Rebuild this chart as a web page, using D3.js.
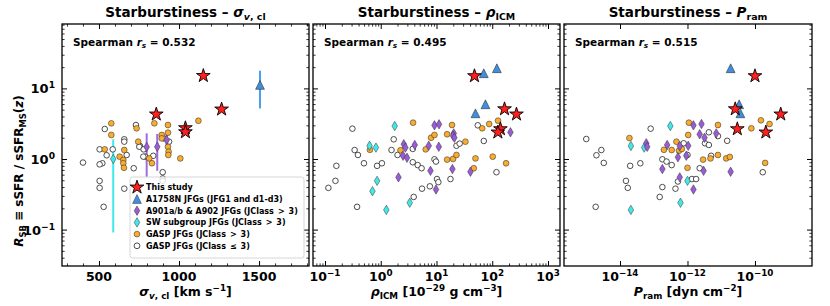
<!DOCTYPE html>
<html>
<head>
<meta charset="utf-8">
<script src="https://cdn.jsdelivr.net/npm/d3@7"></script>
<style>
  body { margin: 0; background: #fff; }
  svg { font-family: "DejaVu Sans", sans-serif; font-weight: bold; }
</style>
</head>
<body>
<div id="chart"></div>
<script>
// ---- data: [x, R_SB] (error bars: [x, R_SB, lo, hi]) ----
var sigStars = [[1152, 15.1], [858, 4.3], [1040, 2.75], [1040, 2.41], [1266, 5.06]];
var sigA1758 = [[1506, 11.2, 5.2, 17.8]];
var sigA901 = [[798, 1.48, 0.56, 2.31], [864, 1.49, 0.68, 2.26], [923, 1.86, 1.6, 2.2]];
var sigSW = [[589, 1.0, 0.091, 1.9]];
var sigGaspHi = [[577, 3.2], [577, 2.19], [536, 1.37], [629, 1.08], [658, 1.34], [652, 0.97], [652, 0.87],
  [656, 0.75], [735, 2.72], [745, 1.76], [846, 3.2], [814, 1.02], [831, 0.87], [931, 3.03], [931, 1.49],
  [935, 1.27], [931, 2.36], [892, 2.19], [892, 1.96], [933, 1.14], [1008, 1.02], [1121, 3.48]];
var sigGaspLo = [[400, 0.89], [504, 1.37], [536, 2.66], [586, 1.37], [548, 1.13], [521, 0.87], [504, 0.84],
  [504, 0.49], [504, 0.39], [529, 0.21], [658, 1.9], [658, 1.76], [673, 1.14], [658, 0.38], [717, 0.74],
  [731, 3.03], [756, 1.53], [789, 1.08], [777, 1.08], [904, 1.96], [898, 0.65], [898, 0.53], [898, 0.49],
  [938, 1.76], [839, 1.11], [752, 1.49], [779, 1.37]];

var rhoStars = [[48, 15.0], [166, 5.1], [272, 4.3], [140, 2.66], [126, 2.39]];
var rhoA1758 = [[70.5, 16.4], [121, 19.3], [75.5, 5.96], [50, 4.44]];
var rhoA901 = [[9.2, 3.0], [11.1, 3.1], [20.4, 2.31], [19.8, 2.14], [20.9, 2.0], [2.59, 1.62], [2.77, 1.45],
  [4.07, 1.58], [7.26, 1.54], [11.0, 1.49], [2.51, 1.11], [2.96, 1.04], [7.8, 0.68], [19.3, 0.72],
  [40.6, 0.66], [2.08, 0.55], [9.8, 0.37], [212, 2.39]];
var rhoSW = [[1.78, 2.93], [0.63, 1.54], [0.82, 1.45], [0.86, 0.49], [0.71, 0.35], [1.26, 0.19], [3.31, 0.24]];
var rhoGaspHi = [[3.8, 3.27], [0.64, 1.35], [2.26, 1.33], [6.4, 1.37], [8.0, 2.0], [9.2, 2.19], [15.5, 2.24],
  [19.0, 3.03], [33, 1.76], [15.5, 0.98], [19.8, 1.0], [22.8, 1.14], [50, 1.02], [46.6, 0.74], [88, 3.13],
  [102, 1.08], [127, 3.49], [177, 0.87], [66, 2.72]];
var rhoGaspLo = [[0.31, 2.69], [0.34, 1.34], [0.39, 1.14], [0.16, 0.8], [0.5, 0.87], [0.154, 0.49],
  [0.115, 0.39], [0.376, 0.21], [0.86, 0.8], [1.05, 0.87], [1.71, 1.9], [1.56, 1.34], [2.0, 1.14],
  [3.75, 1.39], [3.75, 0.9], [4.6, 0.82], [5.4, 0.74], [9.2, 0.99], [9.8, 0.92], [10.2, 0.52], [10.8, 0.47],
  [5.5, 0.38], [7.6, 0.41], [3.9, 0.29], [17.8, 0.52], [22.8, 1.54], [26, 1.65], [55, 3.0], [70.5, 1.8],
  [119, 0.65]];

var pramStars = [[1e-10, 15.0], [2.6e-11, 5.1], [5.8e-10, 4.3], [3e-11, 2.66], [2.1e-10, 2.39]];
var pramA1758 = [[1.9e-11, 19.3], [3.4e-11, 5.96], [3.7e-11, 4.44]];
var pramA901 = [[1.5e-12, 3.0], [2.6e-12, 3.13], [2.3e-12, 2.24], [3.2e-12, 2.0], [7.1e-12, 2.31],
  [6e-14, 1.67], [6.4e-14, 1.49], [2.5e-13, 1.58], [5.9e-13, 1.53], [1.05e-12, 1.54], [5.2e-13, 1.06],
  [9.2e-13, 1.11], [1.8e-13, 0.72], [5.9e-13, 0.55], [3e-12, 0.68], [1.9e-11, 0.66], [1.5e-12, 0.37]];
var pramSW = [[3.1e-13, 2.93], [2.1e-14, 1.53], [5.2e-14, 1.45], [1e-12, 0.49], [6.2e-13, 0.24], [2.1e-14, 0.19]];
var pramGaspHi = [[1.9e-14, 1.98], [1.1e-12, 3.27], [1.05e-12, 2.19], [4.7e-13, 1.76], [2e-13, 1.35],
  [3.4e-13, 1.34], [5.6e-13, 1.31], [6.8e-13, 1.39], [1e-12, 0.75], [2.9e-12, 0.98], [4.8e-12, 1.02],
  [8e-12, 1.14], [8e-12, 3.03], [1.4e-11, 1.02], [1.8e-11, 1.07], [7.8e-11, 2.72], [1.5e-10, 3.53],
  [2.7e-10, 3.13], [2e-10, 0.88]];
var pramGaspLo = [[1e-15, 1.92], [2e-15, 1.13], [2.8e-15, 1.34], [3.3e-15, 0.88], [1.9e-15, 0.21],
  [1.5e-14, 0.49], [1.7e-14, 0.39], [2e-14, 0.8], [4e-14, 0.87], [8.1e-14, 2.69], [1.8e-13, 0.99],
  [2.4e-13, 0.92], [3.4e-13, 0.82], [1.8e-13, 0.4], [1.5e-13, 0.29], [4.4e-13, 0.38], [5.2e-13, 0.48],
  [1.35e-12, 0.52], [1.8e-12, 0.52], [2.3e-12, 0.74], [1e-12, 1.14], [7.7e-13, 1.67], [3.3e-12, 1.67],
  [4.3e-12, 1.58], [4.3e-12, 2.39], [8e-12, 2.11], [1.5e-11, 1.81], [1.7e-10, 0.65], [5e-12, 1.11]];

var spearman = ['0.532', '0.495', '0.515'];
var sigTicks = [500, 1000, 1500];
var rhoTicks = [-1, 0, 1, 2, 3];
var pramTicks = [-14, -12, -10];
var yTicks = [-1, 0, 1];
var legendLabels = ['This study', 'A1758N JFGs (JFG1 and d1-d3)', 'A901a/b & A902 JFGs (JClass\u2002>\u20023)',
  'SW subgroup JFGs (JClass\u2002>\u20023)', 'GASP JFGs (JClass\u2002>\u20023)', 'GASP JFGs (JClass\u2002\u2264\u20023)'];

// ---- layout / style ----
var yTop = 24, yBot = 266;
var yDomain = [0.0305, 81.7];
var cStar = '#ff1f1f', cTri = '#3f8fe0', cPur = '#9a5bd6', cCyan = '#40e8e8', cOra = '#f8ac30';

function sub(t) { return [t, 'sub']; }
function sup(t) { return [t, 'sup']; }
function it(t) { return [t, '', true]; }

var panels = [
  { x0: 62, x1: 309, log: false, domain: [269, 1812], ticks: sigTicks,
    minor: d3.range(300, 1900, 100).filter(v => sigTicks.indexOf(v) < 0),
    title: [['Starburstiness \u2013 '], it('\u03c3'), ['v', 'sub', true], sub(', cl')],
    xlabel: [it('\u03c3'), ['v', 'sub', true], sub(', cl'), [' [km s'], sup('\u22121'), [']']],
    s: [sigGaspLo, sigGaspHi, sigSW, sigA901, sigA1758, sigStars], bars: true },
  { x0: 313, x1: 560, log: true, domain: [Math.pow(10, -1.215), Math.pow(10, 3.215)], ticks: rhoTicks,
    title: [['Starburstiness \u2013 '], it('\u03c1'), sub('ICM')],
    xlabel: [it('\u03c1'), sub('ICM'), [' [10'], sup('\u221229'), [' g cm'], sup('\u22123'), [']']],
    s: [rhoGaspLo, rhoGaspHi, rhoSW, rhoA901, rhoA1758, rhoStars] },
  { x0: 564, x1: 812, log: true, domain: [Math.pow(10, -15.66), Math.pow(10, -8.31)], ticks: pramTicks,
    majorOnly: true,
    title: [['Starburstiness \u2013 '], it('P'), sub('ram')],
    xlabel: [it('P'), sub('ram'), [' [dyn cm'], sup('\u22122'), [']']],
    s: [pramGaspLo, pramGaspHi, pramSW, pramA901, pramA1758, pramStars] }
];

var svg = d3.select('#chart').append('svg').attr('width', 830).attr('height', 306);

function rich(g, x, y, size, parts, anchor) {
  var t = g.append('text').attr('x', x).attr('y', y).attr('font-size', size)
    .attr('text-anchor', anchor || 'start').attr('fill', '#000');
  var shift = 0;
  parts.forEach(function (p) {
    var s = p[1] === 'sub' ? size * 0.28 : p[1] === 'sup' ? -size * 0.38 : 0;
    var ts = t.append('tspan').text(p[0]).attr('dy', s - shift);
    shift = s;
    if (p[1] === 'sub' || p[1] === 'sup') ts.attr('font-size', size * 0.7);
    if (p[2]) ts.attr('font-style', 'italic');
  });
  return t;
}

function pow10(n) { return [['10'], sup(n < 0 ? '\u2212' + (-n) : '' + n)]; }

var starPath = d3.symbol(d3.symbolStar, 58)();
var triPath = 'M0,-4.4L4.4,4.4L-4.4,4.4Z';
var diaPath = 'M0,-4.7L2.8,0L0,4.7L-2.8,0Z';

function drawAxis(g, axis, tx, ty, size) {
  var a = g.append('g').attr('transform', 'translate(' + tx + ',' + ty + ')')
    .call(axis.tickSize(-size).tickFormat(''));
  a.select('.domain').remove();
  a.selectAll('text').remove();
  a.selectAll('line').attr('stroke', '#000').attr('stroke-width', size > 3 ? 1 : 0.8);
}

var yMinor = [];
[-2, -1, 0, 1].forEach(function (e) {
  for (var k = 2; k <= 9; k++) {
    var v = k * Math.pow(10, e);
    if (v > yDomain[0] && v < yDomain[1]) yMinor.push(v);
  }
});

panels.forEach(function (p, pi) {
  var x = (p.log ? d3.scaleLog() : d3.scaleLinear()).domain(p.domain).range([p.x0, p.x1]);
  var y = d3.scaleLog().domain(yDomain).range([yBot, yTop]);
  var g = svg.append('g');

  var majors = p.log ? p.ticks.map(e => Math.pow(10, e)) : p.ticks;
  var minors = p.minor || [];
  if (p.log && !p.majorOnly) {
    d3.range(-2, 4).forEach(function (e) {
      for (var k = 2; k <= 9; k++) {
        var v = k * Math.pow(10, e);
        if (v > p.domain[0] && v < p.domain[1]) minors.push(v);
      }
    });
  }

  var clipId = 'clip' + pi;
  g.append('clipPath').attr('id', clipId).append('rect')
    .attr('x', p.x0).attr('y', yTop).attr('width', p.x1 - p.x0).attr('height', yBot - yTop);
  var m = g.append('g').attr('clip-path', 'url(#' + clipId + ')');

  // error bars (first panel)
  if (p.bars) {
    [[p.s[2], cCyan], [p.s[3], '#a06ae0'], [p.s[4], '#4a9ff0']].forEach(function (b) {
      m.selectAll(null).data(b[0]).join('line')
        .attr('x1', d => x(d[0])).attr('x2', d => x(d[0]))
        .attr('y1', d => y(d[2])).attr('y2', d => y(d[3]))
        .attr('stroke', b[1]).attr('stroke-width', 2);
    });
  }

  m.selectAll(null).data(p.s[0]).join('circle')
    .attr('cx', d => x(d[0])).attr('cy', d => y(d[1])).attr('r', 2.8)
    .attr('fill', '#fff').attr('stroke', '#222').attr('stroke-width', 0.8);
  m.selectAll(null).data(p.s[1]).join('circle')
    .attr('cx', d => x(d[0])).attr('cy', d => y(d[1])).attr('r', 2.9)
    .attr('fill', cOra).attr('stroke', '#222').attr('stroke-width', 0.5);
  m.selectAll(null).data(p.s[2]).join('path').attr('d', diaPath)
    .attr('transform', d => 'translate(' + x(d[0]) + ',' + y(d[1]) + ')')
    .attr('fill', cCyan).attr('stroke', '#333').attr('stroke-width', 0.5);
  m.selectAll(null).data(p.s[3]).join('path').attr('d', diaPath)
    .attr('transform', d => 'translate(' + x(d[0]) + ',' + y(d[1]) + ')')
    .attr('fill', cPur).attr('stroke', '#333').attr('stroke-width', 0.5);
  m.selectAll(null).data(p.s[4]).join('path').attr('d', triPath)
    .attr('transform', d => 'translate(' + x(d[0]) + ',' + y(d[1]) + ')')
    .attr('fill', cTri).attr('stroke', '#333').attr('stroke-width', 0.6);
  m.selectAll(null).data(p.s[5]).join('path').attr('d', starPath)
    .attr('transform', d => 'translate(' + x(d[0]) + ',' + y(d[1]) + ')')
    .attr('fill', cStar).attr('stroke', '#000').attr('stroke-width', 0.9);

  // ticks, inward on all sides
  drawAxis(g, d3.axisBottom(x).tickValues(majors), 0, yBot, 5);
  drawAxis(g, d3.axisTop(x).tickValues(majors), 0, yTop, 5);
  if (minors.length) {
    drawAxis(g, d3.axisBottom(x).tickValues(minors), 0, yBot, 2.6);
    drawAxis(g, d3.axisTop(x).tickValues(minors), 0, yTop, 2.6);
  }
  var yMaj = yTicks.map(e => Math.pow(10, e));
  drawAxis(g, d3.axisLeft(y).tickValues(yMaj), p.x0, 0, 5);
  drawAxis(g, d3.axisRight(y).tickValues(yMaj), p.x1, 0, 5);
  drawAxis(g, d3.axisLeft(y).tickValues(yMinor), p.x0, 0, 2.6);
  drawAxis(g, d3.axisRight(y).tickValues(yMinor), p.x1, 0, 2.6);

  g.append('rect').attr('x', p.x0).attr('y', yTop).attr('width', p.x1 - p.x0).attr('height', yBot - yTop)
    .attr('fill', 'none').attr('stroke', '#000').attr('stroke-width', 1.3);

  // tick labels
  p.ticks.forEach(function (t) {
    if (p.log) rich(g, x(Math.pow(10, t)), 280.5, 12.5, pow10(t), 'middle');
    else rich(g, x(t), 280.5, 12.5, [[String(t)]], 'middle');
  });
  if (pi === 0) {
    yTicks.forEach(function (e) { rich(g, 55, y(Math.pow(10, e)) + 5, 13, pow10(e), 'end'); });
    var yl = rich(g, 0, 0, 12, [it('R'), sub('SB'), [' \u2261 sSFR / sSFR'], sub('MS'), ['('], it('z'), [')']], 'middle');
    yl.attr('transform', 'translate(23,171) rotate(-90)');
  }

  rich(g, (p.x0 + p.x1) / 2, 16.5, 13.5, p.title, 'middle');
  rich(g, (p.x0 + p.x1) / 2, 295.5, 12.5, p.xlabel, 'middle');
  rich(g, p.x0 + 11, 45.5, 10.5, [['Spearman '], it('r'), ['s', 'sub', true], [' = ' + spearman[pi]]]);

  if (pi === 0) {
    var lg = g.append('g');
    lg.append('rect').attr('x', 130).attr('y', 177).attr('width', 174).attr('height', 81).attr('rx', 2.5)
      .attr('fill', '#fff').attr('fill-opacity', 0.8).attr('stroke', '#cccccc').attr('stroke-width', 0.8);
    var marks = [[starPath, cStar], [triPath, cTri], [diaPath, cPur], [diaPath, cCyan], ['c', cOra], ['c', '#fff']];
    legendLabels.forEach(function (lab, i) {
      var cy = 187.3 + i * 11.7;
      var mk = marks[i];
      if (mk[0] === 'c') {
        lg.append('circle').attr('cx', 137).attr('cy', cy).attr('r', 2.9).attr('fill', mk[1])
          .attr('stroke', '#222').attr('stroke-width', i === 5 ? 0.8 : 0.5);
      } else {
        lg.append('path').attr('d', mk[0]).attr('transform', 'translate(137,' + cy + ')')
          .attr('fill', mk[1]).attr('stroke', i === 0 ? '#000' : '#333').attr('stroke-width', i === 0 ? 0.9 : 0.5);
      }
      lg.append('text').attr('x', 146).attr('y', cy + 2.8).attr('font-size', 8).text(lab);
    });
  }
});
</script>
</body>
</html>
